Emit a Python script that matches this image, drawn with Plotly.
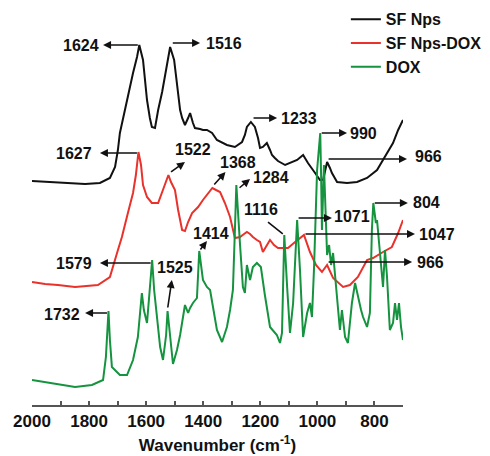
import plotly.graph_objects as go

# ---------------- data ----------------
sf_wn = [2000,1937,1877,1814,1762,1727,1709,1699,1692,1678,1667,1657,1646,1632,1624,1611,1597,1587,1580,1569,
         1558,1544,1534,1523,1516,1502,1492,1481,1474,1464,1453,1446,1436,1429,1411,1401,1387,1369,1352,1334,
         1317,1289,1264,1254,1247,1233,1226,1219,1208,1201,1191,1177,1166,1159,1149,1138,1113,1096,1071,1050,
         1033,1008,991,980,973,966,956,949,931,896,861,826,791,763,735,717,700]
sf_int = [224,223,222,221,222,227,238,255,272,290,305,320,332,348,360,345,305,287,278,277,
          295,313,328,347,358,345,322,295,287,280,287,292,282,277,276,275,275,272,265,262,
          260,258,263,270,278,283,281,278,267,257,258,262,255,250,247,244,240,242,245,250,
          242,232,225,225,235,243,237,232,223,222,223,227,235,248,262,275,285]

sfdox_wn = [2000,1954,1909,1849,1769,1727,1702,1685,1664,1646,1636,1629,1627,1618,1611,1597,1580,1558,1541,1530,
            1522,1513,1499,1488,1474,1464,1453,1439,1418,1401,1383,1368,1355,1341,1324,1306,1289,1271,1257,1247,
            1236,1226,1212,1201,1191,1166,1152,1138,1120,1103,1078,1047,1026,1005,984,966,945,910,886,858,
            826,805,770,739,717,700]
sfdox_int = [123,121,120,118,120,128,152,168,192,212,230,245,253,240,220,208,202,202,215,225,
             230,223,215,195,175,174,183,192,198,205,212,217,215,213,202,188,167,168,171,173,
             171,168,165,163,153,165,160,157,157,157,163,170,153,140,133,140,127,118,120,128,
             145,147,153,158,172,185]

dox_wn = [2000,1930,1849,1790,1751,1741,1732,1727,1720,1692,1667,1646,1629,1615,1608,1597,1587,1579,1572,1562,
          1551,1541,1530,1525,1516,1506,1492,1481,1464,1453,1446,1436,1422,1414,1401,1387,1376,1366,1352,1334,
          1317,1306,1296,1289,1284,1271,1261,1254,1247,1236,1226,1212,1198,1184,1166,1142,1131,1124,1120,1116,
          1106,1096,1085,1071,1061,1050,1036,1026,1019,1012,1001,990,987,984,977,970,966,959,952,945,
          931,921,914,903,893,879,868,858,847,840,826,816,809,804,795,791,781,770,763,756,
          746,735,728,721,714,707,700]
dox_int = [25,22,18,20,25,48,94,65,38,30,30,45,68,112,95,82,115,145,115,88,
           58,45,70,94,65,41,55,70,100,92,97,102,107,154,125,118,115,100,75,63,
           78,95,115,175,220,160,118,112,140,125,138,142,138,110,78,70,62,72,110,170,
           118,72,102,185,135,68,92,102,88,135,235,272,230,175,240,165,150,160,140,152,
           102,75,95,68,62,102,122,108,95,88,78,92,175,202,182,185,152,118,155,128,
           75,82,102,85,102,78,65]

series_names = ["SF Nps", "SF Nps-DOX", "DOX"]
x_range = [2000, 700]
tick_values = list(range(2000, 699, -100))
tick_labels = [str(v) if v % 200 == 0 else "" for v in tick_values]

# peak labels: text, arrow tail (on curve), arrow tip, text position, arrowhead style
peak_labels = [
    ("1624", (1624, 360), (1751, 360), (1828, 360), 2),
    ("1516", (1512, 362), (1411, 362), (1327, 362), 2),
    ("1627", (1627, 252), (1762, 252), (1853, 252), 2),
    ("1522", (1518, 232), (1464, 243), (1436, 256), 2),
    ("1368", (1366, 219), (1322, 233), (1278, 243), 2),
    ("1233", (1229, 287), (1141, 287), (1064, 287), 2),
    ("990", (990, 272), (896, 272), (840, 272), 2),
    ("966", (966, 246), (686, 246), (612, 249), 2),
    ("1284", (1278, 216), (1236, 226), (1163, 228), 2),
    ("1116", (1116, 170), (1173, 183), (1198, 196), 0),
    ("1414", (1414, 154), (1387, 164), (1373, 172), 2),
    ("1071", (1071, 187), (949, 187), (879, 189), 2),
    ("1047", (1047, 171), (658, 171), (581, 171), 2),
    ("966", (966, 143), (668, 143), (602, 143), 2),
    ("804", (804, 202), (683, 202), (616, 203), 2),
    ("1579", (1579, 142), (1762, 142), (1853, 142), 2),
    ("1525", (1525, 96), (1510, 125), (1499, 138), 2),
    ("1732", (1732, 92), (1814, 92), (1895, 91), 2),
]

colors = ["#111111", "#e8322b", "#15933f"]
FONT = "Liberation Sans, Arial, sans-serif"


def to_paper_x(wn):
    return (x_range[0] - wn) / (x_range[0] - x_range[1])


fig = go.Figure()
for name, xs, ys, c in zip(series_names, [sf_wn, sfdox_wn, dox_wn],
                           [sf_int, sfdox_int, dox_int], colors):
    fig.add_trace(go.Scatter(x=xs, y=ys, mode="lines", name=name,
                             line=dict(color=c, width=2)))

annotations = []
for text, tail, tip, pos, head in peak_labels:
    annotations.append(dict(x=tip[0], y=tip[1], ax=tail[0], ay=tail[1],
                            xref="x", yref="y", axref="x", ayref="y",
                            text="", showarrow=True, arrowhead=head, arrowsize=1,
                            arrowwidth=1.6, arrowcolor="#111111", standoff=0,
                            startstandoff=0))
    annotations.append(dict(x=to_paper_x(pos[0]), y=pos[1], xref="paper", yref="y", text=text,
                            showarrow=False, xanchor="center", yanchor="middle",
                            font=dict(family=FONT, size=16, color="#111111", weight="bold")))

# the page body adds an 8px offset, so the figure is drawn 8px smaller
fig.update_layout(
    width=482, height=448,
    margin=dict(l=24, r=87, t=2, b=51, autoexpand=False),
    paper_bgcolor="white", plot_bgcolor="white",
    showlegend=True,
    legend=dict(x=0.846, y=1.0195, xanchor="left", yanchor="top",
                font=dict(family=FONT, size=16, color="#111111", weight="bold"),
                bgcolor="rgba(0,0,0,0)", tracegroupgap=0),
    annotations=annotations,
    xaxis=dict(range=x_range, tickmode="array", tickvals=tick_values,
               ticktext=tick_labels, ticks="inside", ticklen=4, tickwidth=1.5,
               tickcolor="#555555", showline=True, linecolor="#555555", linewidth=1.5,
               showgrid=False, zeroline=False, automargin=False,
               tickfont=dict(family=FONT, size=17, color="#111111", weight="bold"),
               title=dict(text="Wavenumber (cm<sup>-1</sup>)", standoff=9,
                          font=dict(family=FONT, size=17, color="#111111", weight="bold"))),
    yaxis=dict(visible=False, range=[0, 395]),
)

fig.write_html("out.html")
